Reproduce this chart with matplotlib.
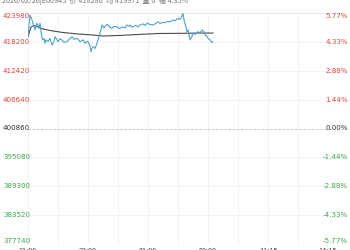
import matplotlib
matplotlib.use("Agg")
import matplotlib.pyplot as plt
import matplotlib.transforms as mtransforms

plt.rcParams['font.family'] = ['Noto Sans CJK SC', 'DejaVu Sans']

# ---- data ----
title_text = "2026/02/26|E00945  价 418280  均 419971  量 0  幅 4.35%"
prev_close = 400860
price_levels = [423980, 418200, 412420, 406640, 400860, 395080, 389300, 383520, 377740]
pct_labels = ["5.77%", "4.33%", "2.88%", "1.44%", "0.00%", "-1.44%", "-2.88%", "-4.33%", "-5.77%"]
time_ticks = [0, 60, 120, 180, 240, 300]
time_labels = ["21:00", "23:00", "01:00", "09:00", "11:15", "14:15"]
grid_times = [0, 30, 60, 90, 120, 150, 180, 210, 240, 270, 300]

price_t = [0, 1, 2, 3, 4, 5, 6, 7, 8, 9, 10, 11, 12, 13, 14, 15, 16, 17, 18, 20, 22, 24, 26, 27,
           29, 30, 32, 34, 36, 39, 41, 44, 46, 49, 51, 52, 55, 57, 59, 60, 62, 63, 64, 65, 67,
           69, 71, 72, 74, 76, 77, 79, 80, 82, 84, 86, 89, 91, 92, 95, 97, 99, 101, 102, 104,
           105, 108, 110, 112, 115, 117, 119, 122, 125, 128, 130, 132, 135, 137, 139, 142, 145,
           147, 150, 152, 154, 155, 156, 157, 159, 160, 162, 164, 165, 167, 170, 172, 174, 176,
           177, 179, 180, 182, 183, 184, 185]
price_v = [419236, 421500, 423579, 423100, 422578, 421918, 421300, 420577, 421400, 421918, 421578,
           420900, 421918, 420300, 418915, 418575, 418900, 417914, 418600, 418235, 418900, 417574,
           418300, 419236, 418600, 418235, 418800, 418575, 418100, 418235, 418700, 419236, 418700,
           418915, 418500, 418235, 418600, 417914, 418300, 418235, 417400, 416233, 416900, 417234,
           416900, 417914, 419200, 419916, 421578, 421000, 421237, 421700, 421578, 421100, 420917,
           421300, 421237, 420900, 420917, 421200, 421000, 421578, 421300, 421578, 421100, 421237,
           421500, 421200, 421578, 421800, 421500, 421918, 421700, 421578, 421900, 422238, 421900,
           422100, 422038, 422300, 422200, 422578, 422400, 422919, 422700, 423300, 423920, 422600,
           421918, 420236, 420600, 418575, 419300, 419916, 419700, 420236, 420000, 420577, 420200,
           419576, 419300, 418915, 418600, 418235, 418100, 418280]

avg_t = [0, 3, 6, 10, 15, 25, 35, 50, 65, 75, 90, 110, 130, 155, 170, 185]
avg_v = [419236, 421177, 421478, 421177, 420777, 420377, 420076, 419776, 419576, 419376,
         419476, 419676, 419876, 419916, 419966, 419971]

# ---- styling ----
red = "#e0453a"
green = "#3aa84a"
dark = "#333333"
line_blue = "#4f9fca"
avg_gray = "#4a4a4a"

fig = plt.figure(figsize=(3.5, 2.5), dpi=100)
fig.patch.set_facecolor("white")
ax = fig.add_axes([28 / 350, 6 / 250, 300 / 350, 231 / 250])
ax.set_xlim(0, 300)
ax.set_ylim(price_levels[-1], price_levels[0])

for s in ax.spines.values():
    s.set_visible(False)

for g in grid_times:
    ax.axvline(g, color="#f0f0f0", lw=0.6, zorder=0)
for lv in price_levels:
    if lv != prev_close:
        ax.axhline(lv, color="#f3f3f3", lw=0.6, zorder=0)
ax.axhline(prev_close, color="#bbbbbb", lw=0.6, ls=(0, (3, 2)), zorder=1)
ax.axhline(price_levels[0], color="#e6e6e6", lw=0.6, zorder=0)

ax.plot(avg_t, avg_v, color=avg_gray, lw=0.8, zorder=3)
ax.plot(price_t, price_v, color=line_blue, lw=0.8, zorder=4)

ax.set_yticks([])
ax.set_xticks(time_ticks)
ax.set_xticklabels(time_labels, fontsize=5.2, color="#444444")
ax.tick_params(axis="x", length=0, pad=2.5)

trans = mtransforms.blended_transform_factory(fig.transFigure, ax.transData)
n = len(price_levels)
for i, (lv, pl) in enumerate(zip(price_levels, pct_labels)):
    if lv > prev_close:
        c = red
    elif lv < prev_close:
        c = green
    else:
        c = dark
    va = "top" if i == 0 else ("bottom" if i == n - 1 else "center")
    ax.text(3 / 350, lv, str(lv), transform=trans, fontsize=5.1, color=c, ha="left", va=va,
            family=["DejaVu Sans"])
    ax.text(348 / 350, lv, pl, transform=trans, fontsize=5.1, color=c, ha="right", va=va,
            family=["DejaVu Sans"])

fig.text(2 / 350, 1.0 - 1 / 250, title_text, fontsize=5.2, color="#777777", ha="left", va="center")

fig.savefig("out.png", dpi=100)
